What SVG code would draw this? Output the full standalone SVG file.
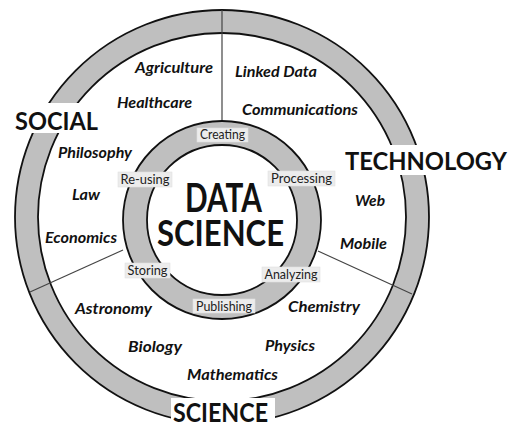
<svg xmlns="http://www.w3.org/2000/svg" width="510" height="425" viewBox="0 0 510 425">
<style>
.band{fill:#bfbfbf;stroke:#111;stroke-width:1.8;fill-rule:evenodd}
.div{stroke:#444;stroke-width:1.2;fill:none}
.cover{fill:#fff}
.big{font-family:Lato,"Liberation Sans",sans-serif;font-weight:bold;fill:#111}
.field{font-family:Lato,"Liberation Sans",sans-serif;font-weight:bold;font-style:italic;font-size:15px;fill:#111}
.phase{font-family:Lato,"Liberation Sans",sans-serif;font-size:12.5px;fill:#222;text-anchor:middle}
.pbox{fill:#ececec;stroke:#e0e0e0;stroke-width:0.6}
</style>
<rect width="510" height="425" fill="#fff"/>
<g id="outer-ring">
<path class="band" d="M15,217 a207,207 0 1,0 414,0 a207,207 0 1,0 -414,0 Z M38,217 a184,184 0 1,0 368,0 a184,184 0 1,0 -368,0 Z"/>
</g>
<g id="connectors">
<line class="div" x1="222" y1="10" x2="222" y2="122"/>
<line class="div" x1="123" y1="250" x2="30" y2="292"/>
<line class="div" x1="318" y1="251" x2="412" y2="294"/>
</g>
<g id="inner-ring">
<path class="band" d="M123,220 a99,99 0 1,0 198,0 a99,99 0 1,0 -198,0 Z M147,220 a75,75 0 1,0 150,0 a75,75 0 1,0 -150,0 Z"/>
</g>
<g id="center">
<text class="big" x="185" y="212" font-size="40" textLength="77" lengthAdjust="spacingAndGlyphs">DATA</text>
<text class="big" x="157" y="246" font-size="37" textLength="127" lengthAdjust="spacingAndGlyphs">SCIENCE</text>
</g>
<g id="social">
<rect class="cover" x="11" y="103" width="90" height="30"/>
<text class="big" x="15" y="130" font-size="25" textLength="83" lengthAdjust="spacingAndGlyphs">SOCIAL</text>
</g>
<g id="technology">
<rect class="cover" x="342" y="145" width="168" height="30"/>
<text class="big" x="345" y="170" font-size="25" textLength="162" lengthAdjust="spacingAndGlyphs">TECHNOLOGY</text>
</g>
<g id="science">
<rect class="cover" x="171" y="398" width="104" height="27"/>
<text class="big" x="173" y="422" font-size="26" textLength="95" lengthAdjust="spacingAndGlyphs">SCIENCE</text>
</g>
<g id="creating"><rect class="pbox" x="197" y="128" width="51" height="14"/><text class="phase" x="222.5" y="139" textLength="45" lengthAdjust="spacingAndGlyphs">Creating</text></g>
<g id="processing"><rect class="pbox" x="268" y="171" width="67" height="15"/><text class="phase" x="301.5" y="183" textLength="61" lengthAdjust="spacingAndGlyphs">Processing</text></g>
<g id="analyzing"><rect class="pbox" x="262" y="267" width="58" height="15"/><text class="phase" x="291" y="279" textLength="53" lengthAdjust="spacingAndGlyphs">Analyzing</text></g>
<g id="publishing"><rect class="pbox" x="193" y="299" width="62" height="14"/><text class="phase" x="224" y="310.5" textLength="56" lengthAdjust="spacingAndGlyphs">Publishing</text></g>
<g id="storing"><rect class="pbox" x="125" y="263" width="45" height="15"/><text class="phase" x="147.5" y="275" textLength="40" lengthAdjust="spacingAndGlyphs">Storing</text></g>
<g id="re-using"><rect class="pbox" x="118" y="172" width="54" height="15"/><text class="phase" x="145" y="184" textLength="49" lengthAdjust="spacingAndGlyphs">Re-using</text></g>
<g id="agriculture"><text class="field" x="135" y="73" textLength="78" lengthAdjust="spacingAndGlyphs">Agriculture</text></g>
<g id="healthcare"><text class="field" x="117" y="108" textLength="75" lengthAdjust="spacingAndGlyphs">Healthcare</text></g>
<g id="linked-data"><text class="field" x="235" y="77" textLength="82" lengthAdjust="spacingAndGlyphs">Linked Data</text></g>
<g id="communications"><text class="field" x="242" y="115" textLength="116" lengthAdjust="spacingAndGlyphs">Communications</text></g>
<g id="philosophy"><text class="field" x="58" y="158" textLength="74" lengthAdjust="spacingAndGlyphs">Philosophy</text></g>
<g id="law"><text class="field" x="72" y="200" textLength="28" lengthAdjust="spacingAndGlyphs">Law</text></g>
<g id="economics"><text class="field" x="45" y="243" textLength="72" lengthAdjust="spacingAndGlyphs">Economics</text></g>
<g id="web"><text class="field" x="355" y="206" textLength="30" lengthAdjust="spacingAndGlyphs">Web</text></g>
<g id="mobile"><text class="field" x="340" y="249" textLength="47" lengthAdjust="spacingAndGlyphs">Mobile</text></g>
<g id="astronomy"><text class="field" x="75" y="314" textLength="77" lengthAdjust="spacingAndGlyphs">Astronomy</text></g>
<g id="chemistry"><text class="field" x="288" y="312" textLength="72" lengthAdjust="spacingAndGlyphs">Chemistry</text></g>
<g id="biology"><text class="field" x="128" y="352" textLength="54" lengthAdjust="spacingAndGlyphs">Biology</text></g>
<g id="physics"><text class="field" x="265" y="351" textLength="50" lengthAdjust="spacingAndGlyphs">Physics</text></g>
<g id="mathematics"><text class="field" x="187" y="380" textLength="91" lengthAdjust="spacingAndGlyphs">Mathematics</text></g>
</svg>
